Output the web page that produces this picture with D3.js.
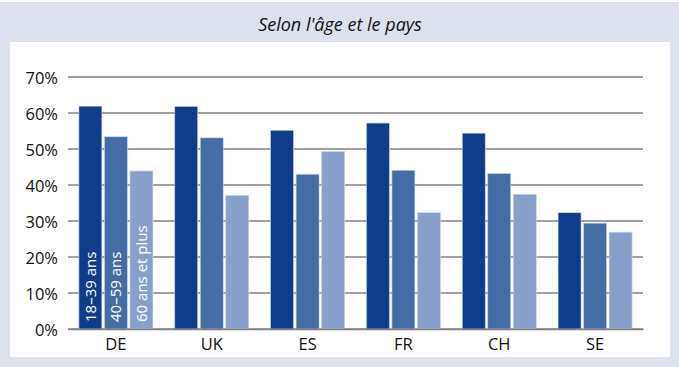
<!DOCTYPE html>
<html><head><meta charset="utf-8">
<script src="https://cdn.jsdelivr.net/npm/d3@7"></script>
<style>body{margin:0;background:#fff}svg{display:block}text{font-family:"Open Sans","Noto Sans",sans-serif;font-weight:400}</style>
</head><body>
<svg id="c" width="679" height="367"></svg>
<script>
const title = "Selon l'âge et le pays";
const countries = ["DE","UK","ES","FR","CH","SE"];
const seriesNames = ["18–39 ans","40–59 ans","60 ans et plus"];
const age18_39 = [61.9,61.8,55.2,57.2,54.4,32.3];
const age40_59 = [53.4,53.1,43.0,44.1,43.2,29.4];
const age60plus = [43.9,37.1,49.3,32.3,37.4,26.9];
const yTicks = [0,10,20,30,40,50,60,70];
const colors = ["#0f3d8c","#466ca8","#86a0c9"];

const series = [age18_39, age40_59, age60plus];
const FONT = "'Open Sans','Noto Sans',sans-serif";
const svg = d3.select("#c");
svg.append("rect").attr("x",0).attr("y",2).attr("width",679).attr("height",365).attr("fill","#dce1ed");
svg.append("rect").attr("x",10).attr("y",42).attr("width",660).attr("height",315).attr("fill","#fff");
svg.append("text").attr("x",340).attr("y",31).attr("text-anchor","middle")
  .attr("font-size",18).attr("font-style","italic").attr("fill","#111").text(title);

const x0 = d3.scaleBand().domain(countries).range([68,643]).paddingInner(0.228).paddingOuter(0.114);
const x1 = d3.scaleBand().domain(d3.range(3)).range([0,x0.bandwidth()]).paddingInner(0.1);
const y = d3.scaleLinear().domain([0,70]).range([329,77]);

const grid = svg.append("g");
grid.selectAll("line").data(yTicks).join("line")
  .attr("x1",68).attr("x2",643).attr("y1",d=>y(d)).attr("y2",d=>y(d))
  .attr("stroke","#808080").attr("stroke-width",1.3);

const yAxis = d3.axisLeft(y).tickValues(yTicks).tickFormat(d=>d+"%").tickSize(0).tickPadding(10);
const ya = svg.append("g").attr("transform","translate(68,0)").call(yAxis);
ya.select(".domain").remove();
ya.selectAll("text").attr("font-size",16.5).attr("fill","#111").attr("dy","0.42em")
  .style("font-family",FONT);

const groups = svg.append("g").selectAll("g").data(countries).join("g")
  .attr("transform",d=>`translate(${x0(d)},0)`);
groups.selectAll("rect").data((c,i)=>series.map((s,k)=>({k,v:s[i]}))).join("rect")
  .attr("x",d=>x1(d.k)).attr("width",x1.bandwidth())
  .attr("y",d=>y(d.v)).attr("height",d=>y(0)-y(d.v))
  .attr("fill",d=>colors[d.k]).attr("stroke","#c9d3e8").attr("stroke-width",0.6);

// series labels inside DE bars
const de = countries[0];
seriesNames.forEach((n,k)=>{
  const cx = x0(de)+x1(k)+x1.bandwidth()/2;
  svg.append("text").attr("transform",`translate(${cx+5.5},322) rotate(-90)`)
    .attr("font-size",15).attr("fill","#fff").text(n);
});

const xAxis = d3.axisBottom(x0).tickSize(0).tickPadding(9);
const xa = svg.append("g").attr("transform","translate(0,329)").call(xAxis);
xa.select(".domain").attr("stroke","#808080").attr("stroke-width",1.3);
xa.selectAll("text").attr("font-size",16.5).attr("fill","#111")
  .style("font-family",FONT);
</script>
</body></html>
